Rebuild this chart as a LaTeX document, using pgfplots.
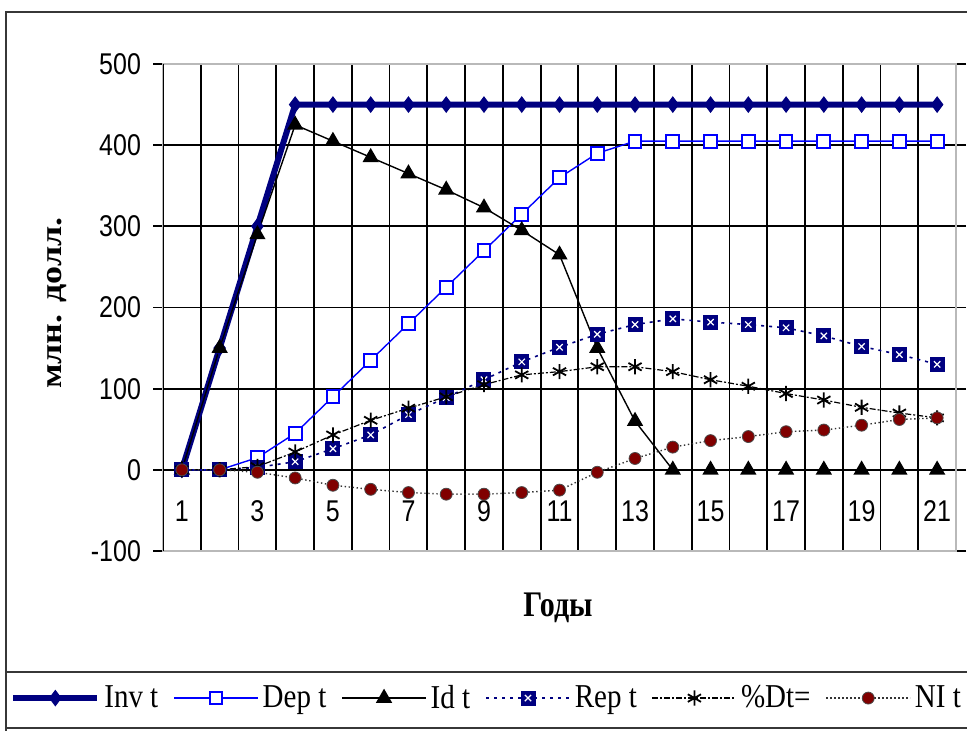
\documentclass[border=0pt]{standalone}
\usepackage{fontspec}
\setmainfont{Liberation Serif}
\newfontfamily\tickfont{Liberation Sans}
\usepackage{pgfplots}
\pgfplotsset{compat=1.18}
\usepackage{pgfplotstable}

\definecolor{invnavy}{RGB}{0,0,128}
\definecolor{depblue}{RGB}{0,0,255}
\definecolor{nimaroon}{RGB}{128,0,0}
\definecolor{framegray}{RGB}{55,55,55}

% filled square with a small white cross inside
\pgfdeclareplotmark{sqx}{%
  \pgfpathrectangle{\pgfpoint{-\pgfplotmarksize}{-\pgfplotmarksize}}%
    {\pgfpoint{2\pgfplotmarksize}{2\pgfplotmarksize}}%
  \pgfusepathqfillstroke
  \begin{pgfscope}%
    \pgfsetstrokecolor{white}%
    \pgfsetlinewidth{0.6pt}%
    \pgfpathmoveto{\pgfpoint{-0.45\pgfplotmarksize}{-0.45\pgfplotmarksize}}%
    \pgfpathlineto{\pgfpoint{0.45\pgfplotmarksize}{0.45\pgfplotmarksize}}%
    \pgfpathmoveto{\pgfpoint{-0.45\pgfplotmarksize}{0.45\pgfplotmarksize}}%
    \pgfpathlineto{\pgfpoint{0.45\pgfplotmarksize}{-0.45\pgfplotmarksize}}%
    \pgfusepathqstroke
  \end{pgfscope}%
}

% yr: year; inv, dep, id, rep, dt, ni: million dollars
\pgfplotstableread{
yr inv dep id  rep dt  ni
1  0   0   0   0   0   0
2  150 0   150 0   0   0
3  300 15  290 3   4   -3
4  450 45  425 10  22  -10
5  450 90  405 26  43  -19
6  450 135 385 43  61  -24
7  450 180 365 68  76  -28
8  450 225 345 89  90  -30
9  450 270 323 111 105 -30
10 450 315 295 133 117 -28
11 450 360 265 151 121 -25
12 450 390 150 167 127 -3
13 450 405 60  179 127 14
14 450 405 0   186 121 28
15 450 405 0   182 111 36
16 450 405 0   179 103 41
17 450 405 0   175 94  47
18 450 405 0   165 86  49
19 450 405 0   152 77  55
20 450 405 0   142 70  62
21 450 405 0   130 64  64
}\projdata

\begin{document}
\begin{tikzpicture}
\path[use as bounding box] (0pt,0pt) rectangle (483.5pt,-365.5pt);
\begin{scope}[x=0.5pt,y=-0.5pt]
% chart frame and legend strip
\draw[framegray, line width=1.1pt] (6,731) -- (6,12) -- (967,12);
\draw[framegray, line width=1.1pt] (6,672) -- (967,672);
\draw[framegray, line width=1.1pt] (6,728) -- (967,728);
\node[rotate=90, font=\bfseries\fontsize{15}{17}\selectfont] at (57,303)
  {\scalebox{1.2}[1]{млн. долл.}};
\node[font=\bfseries\fontsize{15}{17}\selectfont] at (558,608)
  {\scalebox{1}[1.2]{Годы}};
\end{scope}

\begin{axis}[
  at={(81.5pt,-275.5pt)}, anchor=south west,
  scale only axis, width=396.5pt, height=243.5pt,
  xmin=0.5, xmax=21.5, ymin=-100, ymax=500,
  xtick={1.5,2.5,...,20.5}, xticklabels={},
  xmajorgrids, xtick style={draw=none},
  extra x ticks={1,3,...,21},
  extra x tick labels={1,3,5,7,9,11,13,15,17,19,21},
  extra x tick style={grid=none, major tick length=0pt,
    xticklabel style={anchor=center, yshift=16.5pt}},
  ytick={-100,0,...,500},
  yticklabels={-100,0,100,200,300,400,500},
  yticklabel style={xshift=-2.5pt},
  ymajorgrids,
  grid style={black, line width=0.9pt},
  axis line style={gray!55, line width=0.9pt},
  tick align=outside, major tick length=5pt,
  ytick style={black, line width=0.9pt},
  tick label style={font=\tickfont\fontsize{12.5}{14}\selectfont, yscale=1.2},
  legend columns=6,
  legend style={at={(-0.193,-0.302)}, anchor=west, draw=none, fill=none,
    inner sep=0pt, font=\fontsize{14.5}{16}\selectfont,
    /tikz/every even column/.append style={column sep=5.5pt}},
  legend image code/.code={%
    \draw[mark repeat=2,mark phase=2]
      plot coordinates {(0pt,0pt) (21pt,0pt) (42pt,0pt)};},
]
\draw[black, line width=0.9pt] (axis cs:0.5,-100) -- (axis cs:0.5,500);

\addplot[invnavy, line width=3pt, mark=diamond*, mark size=3.8pt,
  mark options={solid, fill=invnavy, line width=0.5pt}]
  table[x=yr, y=inv] {\projdata};
\addlegendentry{\scalebox{1}[1.15]{Inv t}}

\addplot[depblue, line width=0.7pt, mark=square*, mark size=3.2pt,
  mark options={solid, fill=white, draw=depblue, line width=1pt}]
  table[x=yr, y=dep] {\projdata};
\addlegendentry{\scalebox{1}[1.15]{Dep t}}

\addplot[black, line width=0.7pt, mark=triangle*, mark size=4pt,
  mark options={solid, fill=black}]
  table[x=yr, y=id] {\projdata};
\addlegendentry{\scalebox{1}[1.15]{Id t}}

\addplot[invnavy, line width=0.8pt, dash pattern=on 1.5pt off 2.5pt,
  mark=sqx, mark size=3.5pt,
  mark options={solid, fill=invnavy, draw=invnavy, line width=0.5pt}]
  table[x=yr, y=rep] {\projdata};
\addlegendentry{\scalebox{1}[1.15]{Rep t}}

\addplot[black, line width=0.6pt, dash pattern=on 3pt off 1pt on 1pt off 1pt,
  mark=asterisk, mark size=3.8pt, mark options={solid, line width=0.9pt}]
  table[x=yr, y=dt] {\projdata};
\addlegendentry{\scalebox{1}[1.15]{\%Dt=}}

\addplot[black!80, line width=0.7pt, dash pattern=on 0.7pt off 1.3pt,
  mark=*, mark size=3pt,
  mark options={solid, fill=nimaroon, draw=black!70, line width=0.4pt}]
  table[x=yr, y=ni] {\projdata};
\addlegendentry{\scalebox{1}[1.15]{NI t}}
\end{axis}
\end{tikzpicture}
\end{document}
